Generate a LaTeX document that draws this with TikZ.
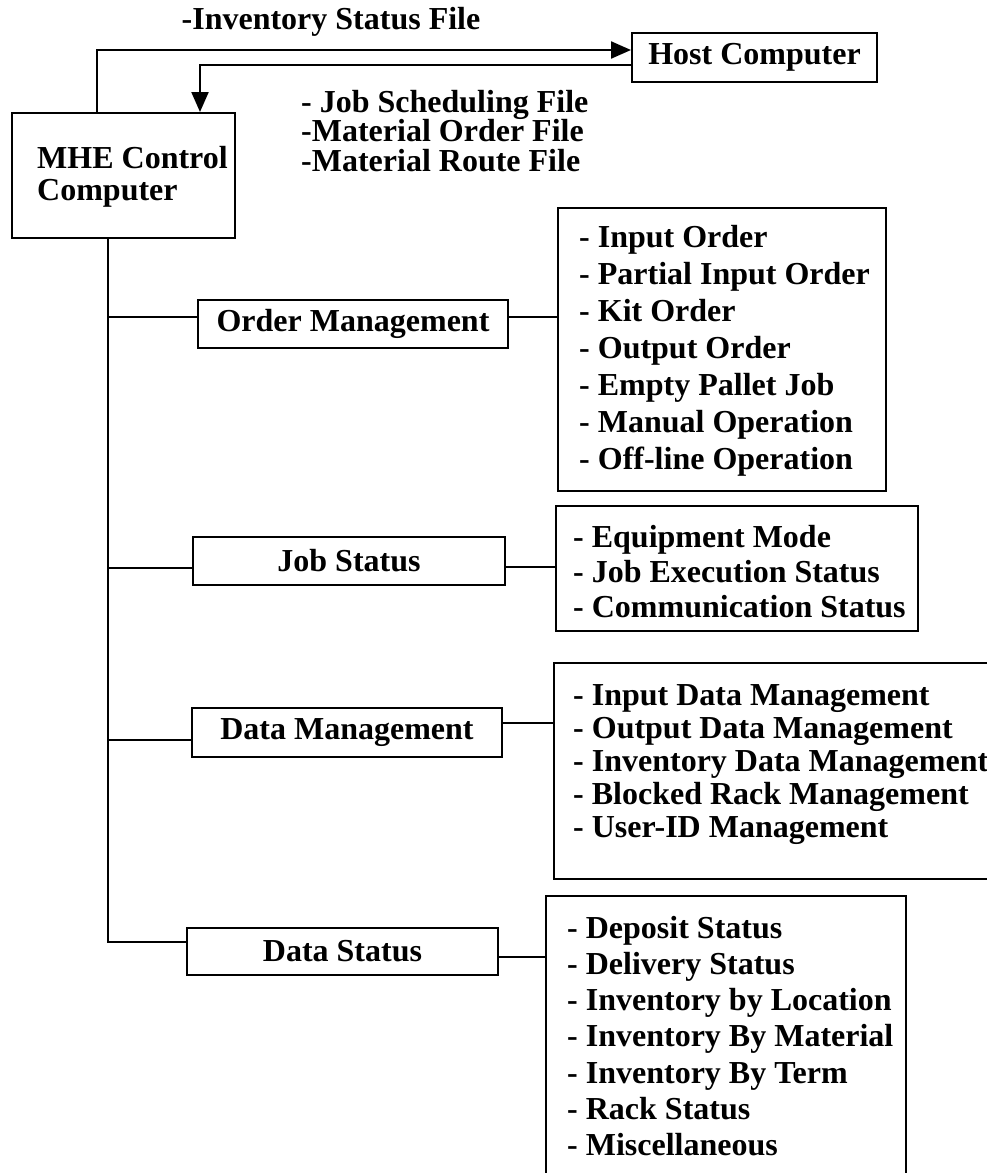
\documentclass[tikz,border=0pt]{standalone}
\usepackage{fontspec}
\setmainfont{Liberation Serif}
\usetikzlibrary{arrows.meta}
\begin{document}
\begin{tikzpicture}[x=1pt,y=-1pt,
  every node/.style={inner sep=0pt, font=\bfseries\fontsize{32}{37}\selectfont},
  box/.style={draw, line width=2pt},
  link/.style={line width=2.2pt},
  arr/.style={link, -{Triangle[length=20pt,width=17pt]}},
  items/.style={anchor=west, align=left},
]
\useasboundingbox (0,0) rectangle (987,1173);

% computers
\node[box, minimum width=223pt, minimum height=125pt] (mhe) at (123.5,175.5) {};
\node[items, font=\bfseries\fontsize{32}{32}\selectfont] (mhetext) at (37,177) {MHE Control\\Computer};
\node[box, minimum width=245pt, minimum height=49pt] (host) at (754.5,57.5) {Host Computer};

% file transfer labels
\node (upfile) at (331,22) {-Inventory Status File};
\node[items, font=\bfseries\fontsize{32}{29.5}\selectfont] (downfiles) at (301,131)
  {- Job Scheduling File\\-Material Order File\\-Material Route File};

% file transfers between the computers
\draw[arr] ([xshift=-26.5pt]mhe.north) |- ([yshift=7.5pt]host.west);
\draw[arr] ([yshift=-7.5pt]host.west) -| ([xshift=76.5pt]mhe.north);

% function boxes
\node[box, minimum width=310pt, minimum height=48pt] (om) at (353,324) {Order Management};
\node[box, minimum width=312pt, minimum height=48pt] (js) at (349,561) {Job Status};
\node[box, minimum width=310pt, minimum height=49pt] (dm) at (347,732.5) {Data Management};
\node[box, minimum width=311pt, minimum height=47pt] (ds) at (342.5,951.5) {Data Status};

% item list frames
\node[box, anchor=north west, minimum width=328pt, minimum height=283pt] (olist) at (557,207) {};
\node[box, anchor=north west, minimum width=362pt, minimum height=125pt] (jlist) at (555,505) {};
\node[box, anchor=north west, minimum width=450pt, minimum height=216pt] (dlist) at (553,662) {};
\node[box, anchor=north west, minimum width=360pt, minimum height=320pt] (slist) at (545,895) {};

% item lists
\node[items] (otext) at (579,351) {- Input Order\\- Partial Input Order\\- Kit Order\\- Output Order\\- Empty Pallet Job\\- Manual Operation\\- Off-line Operation};
\node[items, font=\bfseries\fontsize{32}{35}\selectfont] (jtext) at (573,572) {- Equipment Mode\\- Job Execution Status\\- Communication Status};
\node[items, font=\bfseries\fontsize{32}{33}\selectfont] (dtext) at (573,765) {- Input Data Management\\- Output Data Management\\- Inventory Data Management\\- Blocked Rack Management\\- User-ID Management};
\node[items, font=\bfseries\fontsize{32}{36.3}\selectfont] (stext) at (567,1036) {- Deposit Status\\- Delivery Status\\- Inventory by Location\\- Inventory By Material\\- Inventory By Term\\- Rack Status\\- Miscellaneous};

% trunk from the MHE control computer
\coordinate (trunk) at ([xshift=-15.5pt]mhe.south);
\draw[link] (trunk) |- ([yshift=9.5pt]ds.west);
\draw[link] ([yshift=7pt]om.west) -- ([yshift=7pt]om.west -| trunk);
\draw[link] ([yshift=-7pt]js.west) -- ([yshift=-7pt]js.west -| trunk);
\draw[link] ([yshift=-7.5pt]dm.west) -- ([yshift=-7.5pt]dm.west -| trunk);

% links from function boxes to their item lists
\draw[link] ([yshift=7pt]om.east) -- ([yshift=7pt]om.east -| olist.west);
\draw[link] ([yshift=-6pt]js.east) -- ([yshift=-6pt]js.east -| jlist.west);
\draw[link] ([yshift=9.5pt]dm.east) -- ([yshift=9.5pt]dm.east -| dlist.west);
\draw[link] ([yshift=-5.5pt]ds.east) -- ([yshift=-5.5pt]ds.east -| slist.west);
\end{tikzpicture}
\end{document}
